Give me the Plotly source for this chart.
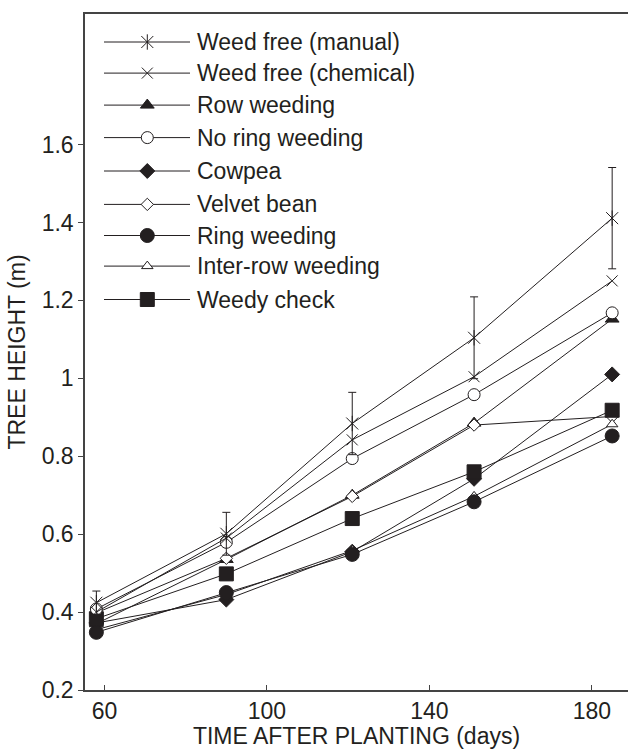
import plotly.graph_objects as go

# ---------------- data ----------------
days = [58, 90, 121, 151, 185]

series_names = [
    "Weed free (manual)",
    "Weed free (chemical)",
    "Row weeding",
    "No ring weeding",
    "Cowpea",
    "Velvet bean",
    "Ring weeding",
    "Inter-row weeding",
    "Weedy check",
]

weed_free_manual = [0.424, 0.601, 0.884, 1.104, 1.411]
weed_free_manual_err = [0.03, 0.055, 0.08, 0.105, 0.13]
weed_free_chemical = [0.400, 0.590, 0.842, 1.004, 1.250]
row_weeding = [0.370, 0.535, 0.700, 0.885, 1.152]
no_ring_weeding = [0.408, 0.579, 0.794, 0.958, 1.168]
cowpea = [0.372, 0.432, 0.555, 0.742, 1.010]
velvet_bean = [0.398, 0.538, 0.697, 0.880, 0.902]
ring_weeding = [0.348, 0.450, 0.548, 0.683, 0.852]
inter_row_weeding = [0.355, 0.445, 0.558, 0.697, 0.882]
weedy_check = [0.383, 0.498, 0.640, 0.760, 0.918]

y_ticks = [0.2, 0.4, 0.6, 0.8, 1.0, 1.2, 1.4, 1.6]
y_tick_labels = ["0.2", "0.4", "0.6", "0.8", "1", "1.2", "1.4", "1.6"]
x_ticks = [60, 100, 140, 180]

# ---------------- style ----------------
INK = "#231f20"
FONT = "Liberation Sans, Arial, Helvetica, sans-serif"
FS = 23

all_values = [weed_free_manual, weed_free_chemical, row_weeding, no_ring_weeding,
              cowpea, velvet_bean, ring_weeding, inter_row_weeding, weedy_check]

# list of marker layers per series: (symbol, size, fill)
marker_styles = [
    [("x-thin-open", 12, INK), ("line-ns-open", 11, INK)],
    [("x-thin-open", 11, INK)],
    [("triangle-up", 12, INK)],
    [("circle", 12, "white")],
    [("diamond", 11.5, INK)],
    [("diamond", 9.5, "white")],
    [("circle", 14, INK)],
    [("triangle-up", 10, "white")],
    [("square", 14, INK)],
]

fig = go.Figure()

# draw order (later on top)
order = [2, 5, 4, 7, 6, 8, 3, 1, 0]
for i in order:
    layers = marker_styles[i]
    kw = {}
    if i == 0:
        kw["error_y"] = dict(type="data", array=weed_free_manual_err, visible=True,
                             color=INK, thickness=1, width=4)
    sym, sz, fill = layers[0]
    fig.add_trace(go.Scatter(
        x=days, y=all_values[i], mode="lines+markers", name=series_names[i],
        line=dict(color=INK, width=1),
        marker=dict(symbol=sym, size=sz, color=fill,
                    line=dict(color=INK, width=1)),
        showlegend=False, **kw))
    for sym, sz, fill in layers[1:]:
        fig.add_trace(go.Scatter(
            x=days, y=all_values[i], mode="markers", name=series_names[i],
            marker=dict(symbol=sym, size=sz, color=fill,
                        line=dict(color=INK, width=1)),
            showlegend=False, hoverinfo="skip"))

# ---------------- custom legend (pixel coordinates inside plot area) ----------------
PLOT_W = 543
PLOT_H = 676
legend_rows = [28, 59.1, 91.1, 123.6, 157, 190.4, 221.5, 252.1, 285.5]
line_x0, line_x1, mark_x, text_x = 19, 105, 62.3, 110

for i, name in enumerate(series_names):
    yy = legend_rows[i]
    fig.add_trace(go.Scatter(
        x=[line_x0, line_x1], y=[yy, yy], mode="lines", xaxis="x2", yaxis="y2",
        line=dict(color=INK, width=1), showlegend=False, hoverinfo="skip"))
    for sym, sz, fill in marker_styles[i]:
        fig.add_trace(go.Scatter(
            x=[mark_x], y=[yy], mode="markers", xaxis="x2", yaxis="y2",
            marker=dict(symbol=sym, size=sz, color=fill, line=dict(color=INK, width=1)),
            showlegend=False, hoverinfo="skip"))
    fig.add_annotation(x=text_x, y=yy, xref="x2", yref="y2", text=name,
                       showarrow=False, xanchor="left", yanchor="middle",
                       font=dict(family=FONT, size=FS, color=INK))

fig.update_layout(
    width=628, height=749,
    margin=dict(l=85, r=0, t=14, b=59, pad=0),
    paper_bgcolor="white", plot_bgcolor="white",
    font=dict(family=FONT, size=FS, color=INK),
    showlegend=False,
    xaxis=dict(
        range=[55.2, 188.9], tickvals=x_ticks, ticks="inside", ticklen=5,
        tickcolor="#444", linecolor="#444", linewidth=1.5, mirror=True,
        showgrid=False, zeroline=False, showline=True,
        title=dict(text="TIME AFTER PLANTING (days)", standoff=4,
                   font=dict(family=FONT, size=FS, color=INK)),
        tickfont=dict(family=FONT, size=FS, color=INK),
    ),
    yaxis=dict(
        range=[0.2, 1.935], tickvals=y_ticks, ticktext=y_tick_labels,
        ticks="outside", ticklen=5, tickcolor="#444", linecolor="#444",
        linewidth=1.5, showgrid=False, zeroline=False, showline=True,
        title=dict(text="TREE HEIGHT (m)", standoff=10,
                   font=dict(family=FONT, size=FS, color=INK)),
        tickfont=dict(family=FONT, size=FS, color=INK),
    ),
    xaxis2=dict(range=[0, PLOT_W], domain=[0, 1], overlaying="x", visible=False,
                fixedrange=True),
    yaxis2=dict(range=[PLOT_H, 0], domain=[0, 1], overlaying="y", visible=False,
                fixedrange=True),
)

fig.write_html("out.html")
